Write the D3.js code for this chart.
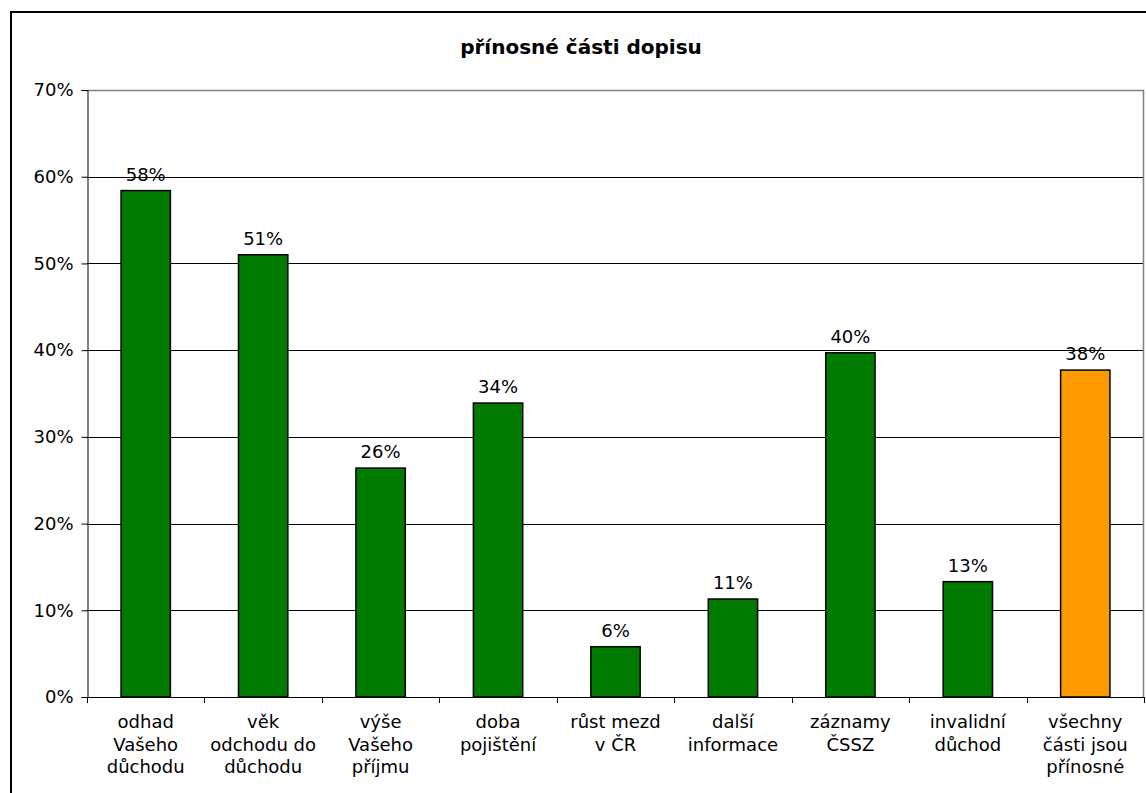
<!DOCTYPE html>
<html>
<head>
<meta charset="utf-8">
<script src="https://cdn.jsdelivr.net/npm/d3@7"></script>
<style>
  html, body { margin: 0; padding: 0; background: #fff; }
  svg { display: block; font-family: "DejaVu Sans", Verdana, sans-serif; }
</style>
</head>
<body>
<svg id="chart" width="1146" height="793"></svg>
<script>
// Category labels (line breaks mark wrapped lines)
const categories = [
  "odhad\nVašeho\ndůchodu",
  "věk\nodchodu do\ndůchodu",
  "výše\nVašeho\npříjmu",
  "doba\npojištění",
  "růst mezd\nv ČR",
  "další\ninformace",
  "záznamy\nČSSZ",
  "invalidní\ndůchod",
  "všechny\nčásti jsou\npřínosné"
];
// Share of respondents (fraction)
const values = [0.584, 0.510, 0.264, 0.339, 0.058, 0.113, 0.397, 0.133, 0.377];
// Bar colour group: last bar is the summary
const groups = ["part", "part", "part", "part", "part", "part", "part", "part", "all"];
const yTicks = [0, 0.1, 0.2, 0.3, 0.4, 0.5, 0.6, 0.7];
const title = "přínosné části dopisu";

const svg = d3.select("#chart");
const W = 1146, H = 793;
const plot = { left: 87, right: 1144, top: 90, bottom: 697 };
const color = { part: "#007a00", all: "#ff9900" };

// outer chart frame
svg.append("rect")
  .attr("x", 11).attr("y", 12)
  .attr("width", W + 20).attr("height", H + 20)
  .attr("fill", "#fff").attr("stroke", "#000").attr("stroke-width", 2);

svg.append("text")
  .attr("x", 581).attr("y", 54)
  .attr("text-anchor", "middle")
  .attr("font-size", 20).attr("font-weight", "bold")
  .text(title);

const x = d3.scaleBand()
  .domain(d3.range(categories.length))
  .range([plot.left, plot.right])
  .paddingInner(0.58).paddingOuter(0.29);

const xOuter = d3.scaleBand()
  .domain(d3.range(categories.length))
  .range([plot.left, plot.right]);

const y = d3.scaleLinear().domain([0, 0.7]).range([plot.bottom, plot.top]);

// horizontal gridlines
svg.append("g")
  .selectAll("line")
  .data(yTicks.filter(t => t > 0 && t < 0.7))
  .join("line")
  .attr("x1", plot.left).attr("x2", plot.right)
  .attr("y1", d => Math.round(y(d)) + 0.5).attr("y2", d => Math.round(y(d)) + 0.5)
  .attr("stroke", "#000").attr("stroke-width", 1);

// plot area border (top and right)
svg.append("path")
  .attr("d", `M${plot.left},${plot.top + 0.5}H${plot.right - 0.5}V${plot.bottom}`)
  .attr("fill", "none").attr("stroke", "#808080").attr("stroke-width", 1.5);

// bars
svg.append("g")
  .selectAll("rect")
  .data(values)
  .join("rect")
  .attr("x", (d, i) => x(i))
  .attr("width", x.bandwidth())
  .attr("y", d => y(d))
  .attr("height", d => y(0) - y(d))
  .attr("fill", (d, i) => color[groups[i]])
  .attr("stroke", "#000").attr("stroke-width", 1.5);

// value labels
svg.append("g")
  .selectAll("text")
  .data(values)
  .join("text")
  .attr("x", (d, i) => x(i) + x.bandwidth() / 2)
  .attr("y", d => y(d) - 10)
  .attr("text-anchor", "middle")
  .attr("font-size", 18).attr("fill", "#000")
  .text(d => d3.format(".0%")(d));

// y axis
const yAxis = svg.append("g")
  .attr("transform", `translate(${plot.left + 0.5},0)`)
  .call(d3.axisLeft(y).tickValues(yTicks).tickFormat(d3.format(".0%")).tickSize(6).tickPadding(8));
yAxis.select(".domain").attr("stroke", "#000");
yAxis.selectAll("text").attr("font-size", 18).attr("font-family", "DejaVu Sans, Verdana, sans-serif").attr("fill", "#000");

// x axis baseline and ticks at category boundaries
const xg = svg.append("g");
xg.append("line")
  .attr("x1", plot.left).attr("x2", plot.right)
  .attr("y1", plot.bottom + 0.5).attr("y2", plot.bottom + 0.5)
  .attr("stroke", "#000");
xg.selectAll("line.tick")
  .data(d3.range(categories.length + 1))
  .join("line")
  .attr("class", "tick")
  .attr("x1", i => Math.round(plot.left + i * xOuter.step()) + 0.5)
  .attr("x2", i => Math.round(plot.left + i * xOuter.step()) + 0.5)
  .attr("y1", plot.bottom).attr("y2", plot.bottom + 6)
  .attr("stroke", "#000");

// category labels
xg.selectAll("text.cat")
  .data(categories)
  .join("text")
  .attr("class", "cat")
  .attr("text-anchor", "middle")
  .attr("font-size", 18).attr("fill", "#000")
  .each(function (d, i) {
    const t = d3.select(this);
    const cx = xOuter(i) + xOuter.bandwidth() / 2;
    d.split("\n").forEach((line, k) => {
      t.append("tspan").attr("x", cx).attr("y", 728 + k * 22.5).text(line);
    });
  });
</script>
</body>
</html>
